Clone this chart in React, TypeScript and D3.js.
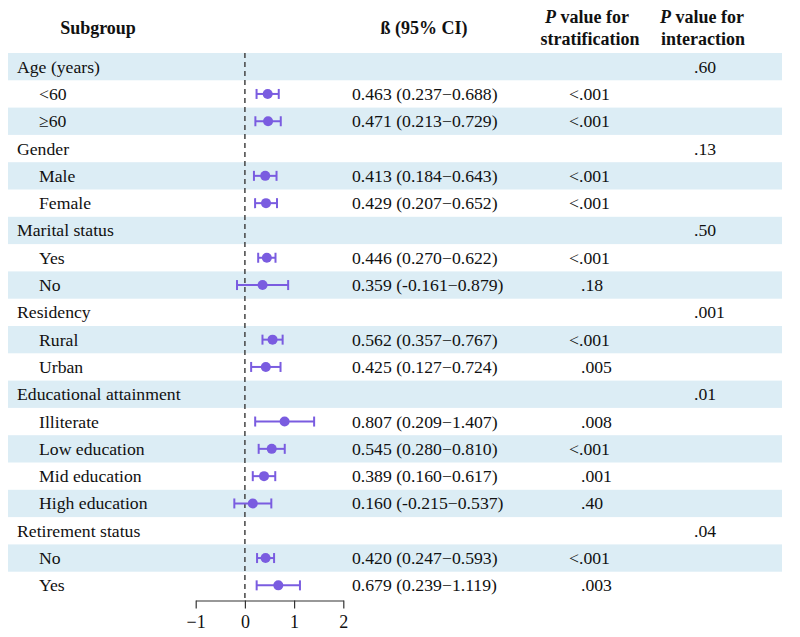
import { useEffect, useRef } from "react";
import * as d3 from "d3";

// rows of the forest plot, top to bottom
const labels = [
  "Age (years)", "<60", "≥60",
  "Gender", "Male", "Female",
  "Marital status", "Yes", "No",
  "Residency", "Rural", "Urban",
  "Educational attainment", "Illiterate", "Low education", "Mid education", "High education",
  "Retirement status", "No", "Yes",
];
const isGroup = [
  true, false, false,
  true, false, false,
  true, false, false,
  true, false, false,
  true, false, false, false, false,
  true, false, false,
];
const beta = [
  null, 0.463, 0.471,
  null, 0.413, 0.429,
  null, 0.446, 0.359,
  null, 0.562, 0.425,
  null, 0.807, 0.545, 0.389, 0.16,
  null, 0.42, 0.679,
];
const lower = [
  null, 0.237, 0.213,
  null, 0.184, 0.207,
  null, 0.27, -0.161,
  null, 0.357, 0.127,
  null, 0.209, 0.28, 0.16, -0.215,
  null, 0.247, 0.239,
];
const upper = [
  null, 0.688, 0.729,
  null, 0.643, 0.652,
  null, 0.622, 0.879,
  null, 0.767, 0.724,
  null, 1.407, 0.81, 0.617, 0.537,
  null, 0.593, 1.119,
];
const ciText = [
  "", "0.463 (0.237−0.688)", "0.471 (0.213−0.729)",
  "", "0.413 (0.184−0.643)", "0.429 (0.207−0.652)",
  "", "0.446 (0.270−0.622)", "0.359 (-0.161−0.879)",
  "", "0.562 (0.357−0.767)", "0.425 (0.127−0.724)",
  "", "0.807 (0.209−1.407)", "0.545 (0.280−0.810)", "0.389 (0.160−0.617)", "0.160 (-0.215−0.537)",
  "", "0.420 (0.247−0.593)", "0.679 (0.239−1.119)",
];
const pStrat = [
  "", "<.001", "<.001",
  "", "<.001", "<.001",
  "", "<.001", ".18",
  "", "<.001", ".005",
  "", ".008", "<.001", ".001", ".40",
  "", "<.001", ".003",
];
const pInter = [
  ".60", "", "",
  ".13", "", "",
  ".50", "", "",
  ".001", "", "",
  ".01", "", "", "", "",
  ".04", "", "",
];
const xTicks = [-1, 0, 1, 2];

const W = 800;
const H = 637;
const FONT = "'Liberation Serif', 'Times New Roman', serif";
const PURPLE = "#7a5ce0";
const FS = 17.7;

export default function App() {
  const axisRef = useRef<SVGGElement | null>(null);

  const top = 53;
  const rowH = 27.3;
  const axisY = 600.5;

  const x = d3.scaleLinear().domain([-1, 2]).range([195.7, 343.3]);
  const y = d3
    .scaleBand<number>()
    .domain(d3.range(labels.length))
    .range([top, top + rowH * labels.length])
    .padding(0);

  useEffect(() => {
    if (!axisRef.current) return;
    const g = d3.select(axisRef.current);
    g.selectAll("*").remove();
    g.call(
      d3
        .axisBottom(x)
        .tickValues(xTicks)
        .tickFormat(d3.format("d") as any)
        .tickSize(8)
        .tickSizeOuter(0)
    );
    g.select(".domain").attr("stroke", "#333").attr("stroke-width", 1.2);
    g.selectAll(".tick line").attr("stroke", "#333").attr("stroke-width", 1.2);
    g.selectAll(".tick text")
      .attr("font-family", FONT)
      .attr("font-size", 18)
      .attr("fill", "#111")
      .attr("y", 27.5)
      .attr("dy", 0);
  }, []);

  return (
    <svg
      width={W}
      height={H}
      style={{ position: "absolute", left: 0, top: 0, background: "#fff" }}
      fontFamily={FONT}
    >
      {/* zebra bands */}
      {labels.map((_, i) =>
        i % 2 === 0 ? (
          <rect key={"b" + i} x={8} y={y(i)} width={774} height={y.bandwidth()} fill="#dcedf5" />
        ) : null
      )}

      {/* headers */}
      <g fontWeight="bold" fontSize={18} fill="#111" textAnchor="middle">
        <text x={98} y={34}>Subgroup</text>
        <text x={424} y={34}>ß (95% CI)</text>
        <text x={587} y={23}>
          <tspan fontStyle="italic">P</tspan> value for
        </text>
        <text x={590} y={45}>stratification</text>
        <text x={702} y={23}>
          <tspan fontStyle="italic">P</tspan> value for
        </text>
        <text x={703} y={45}>interaction</text>
      </g>

      {/* reference line */}
      <line
        x1={x(0)}
        x2={x(0)}
        y1={top}
        y2={axisY}
        stroke="#444"
        strokeWidth={1.5}
        strokeDasharray="5,4"
      />

      {/* rows */}
      {labels.map((lab, i) => {
        const cy = (y(i) ?? 0) + y.bandwidth() / 2;
        const b = beta[i];
        const lo = lower[i];
        const hi = upper[i];
        const p = pStrat[i];
        return (
          <g key={"r" + i} fontSize={FS} fill="#111">
            <text x={isGroup[i] ? 17 : 39} y={cy + 6}>{lab}</text>
            {ciText[i] && <text x={352} y={cy + 6}>{ciText[i]}</text>}
            {p && <text x={p.startsWith("<") ? 569 : 581} y={cy + 6}>{p}</text>}
            {pInter[i] && <text x={694} y={cy + 6}>{pInter[i]}</text>}
            {b !== null && lo !== null && hi !== null && (
              <g stroke={PURPLE} strokeWidth={2} fill={PURPLE}>
                <line x1={x(lo)} x2={x(hi)} y1={cy} y2={cy} />
                <line x1={x(lo)} x2={x(lo)} y1={cy - 5} y2={cy + 5} />
                <line x1={x(hi)} x2={x(hi)} y1={cy - 5} y2={cy + 5} />
                <circle cx={x(b)} cy={cy} r={5} stroke="none" />
              </g>
            )}
          </g>
        );
      })}

      <g ref={axisRef} transform={`translate(0,${axisY})`} />
    </svg>
  );
}
